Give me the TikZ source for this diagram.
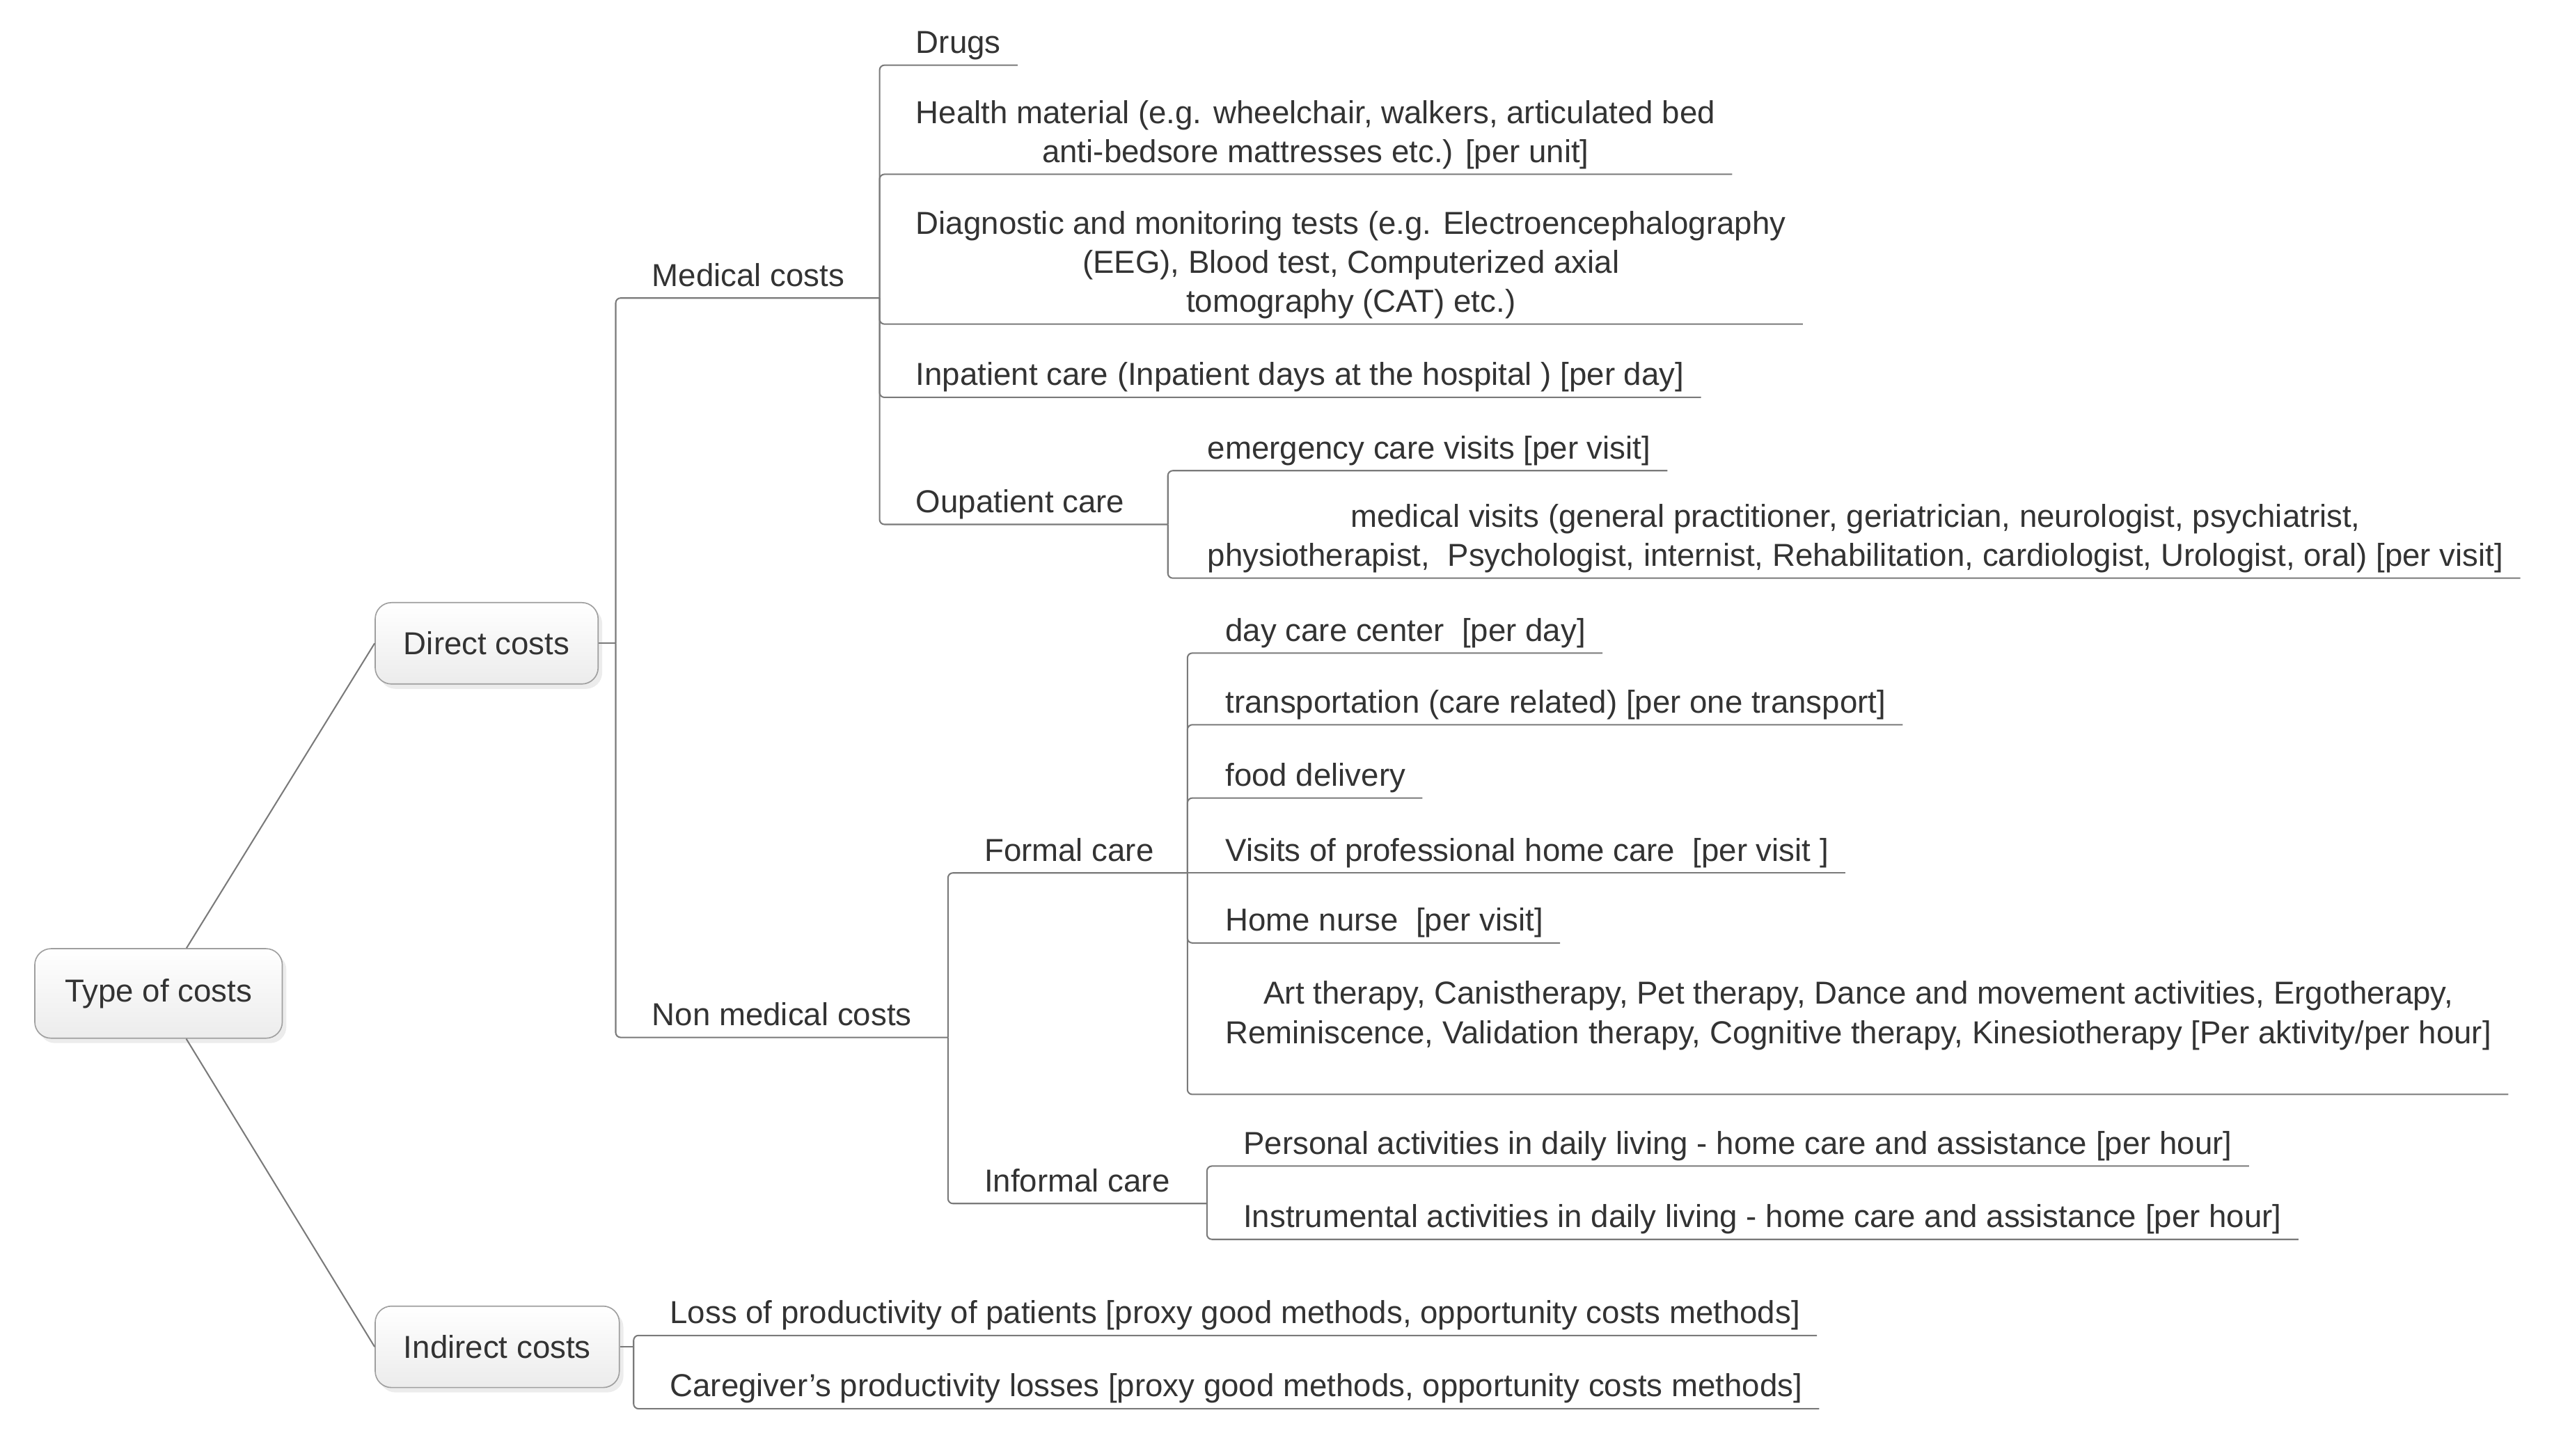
\documentclass[tikz,border=0pt]{standalone}
\usepackage{fontspec}
\setmainfont{Liberation Sans}
\usetikzlibrary{shadows}
\definecolor{txt}{HTML}{333333}
\definecolor{edge}{HTML}{7A7A7A}
\tikzset{
  box/.style={draw=gray!75, rounded corners=0.2cm, top color=white, bottom color=gray!15,
    drop shadow={opacity=0.15, shadow xshift=0.05cm, shadow yshift=-0.06cm},
    inner xsep=0.35cm, minimum height=1cm, text=txt},
  topic/.style={anchor=south west, inner xsep=0.2cm, inner ysep=0.07cm, text depth=0.07cm,
    align=center, text=txt},
  link/.style={draw=edge, line width=0.5pt, rounded corners=0.06cm},
}
\begin{document}
\begin{tikzpicture}[x=0.02cm, y=-0.02cm, font=\fontsize{11.1}{13.66}\selectfont]
    \useasboundingbox (0,0) rectangle (1568,894);

    \node[box, anchor=west, minimum height=1.1cm, minimum width=3.04cm] at (21,610) (root){Type of costs};
    \node[box, anchor=west] at (230,395) (direct){Direct costs};
    \node[box, anchor=west] at (230,827) (indirect){Indirect costs};

    \coordinate (dirj) at (378,395);
    \coordinate (medj) at (540,183);
    \coordinate (outj) at (717,322);
    \coordinate (nonj) at (582,637);
    \coordinate (formj) at (729,536);
    \coordinate (infj) at (741,739);
    \coordinate (indj) at (389,827);

    \node[topic] at (390,183) (med){Medical costs};
    \node[topic] at (552,40) (drugs){Drugs};
    \node[topic] at (552,107) (health){Health material (e.g. wheelchair, walkers, articulated bed\\anti-bedsore mattresses etc.) [per unit]};
    \node[topic] at (552,199) (diag){Diagnostic and monitoring tests (e.g. Electroencephalography\\(EEG), Blood test, Computerized axial\\tomography (CAT) etc.)};
    \node[topic] at (552,244) (inpat){Inpatient care (Inpatient days at the hospital ) [per day]};
    \node[topic] at (552,322) (outpat){Oupatient care};
    \node[topic] at (731,289) (emerg){emergency care visits [per visit]};
    \node[topic] at (731,355) (medvis){medical visits (general practitioner, geriatrician, neurologist, psychiatrist,\\physiotherapist,~ Psychologist, internist, Rehabilitation, cardiologist, Urologist, oral) [per visit]};

    \node[topic] at (390,637) (nonmed){Non medical costs};
    \node[topic] at (594,536) (formal){Formal care};
    \node[topic] at (594,739) (informal){Informal care};
    \node[topic] at (742,401) (daycare){day care center~ [per day]};
    \node[topic] at (742,445) (transp){transportation (care related) [per one transport]};
    \node[topic] at (742,490) (food){food delivery};
    \node[topic] at (742,536) (homecare){Visits of professional home care~ [per visit ]};
    \node[topic] at (742,579) (nurse){Home nurse~ [per visit]};
    \node[topic, text depth=0.55cm] at (742,672) (therapy){Art therapy, Canistherapy, Pet therapy, Dance and movement activities, Ergotherapy,\\Reminiscence, Validation therapy, Cognitive therapy, Kinesiotherapy [Per aktivity/per hour]};
    \node[topic] at (753,716) (personal){Personal activities in daily living - home care and assistance [per hour]};
    \node[topic] at (753,761) (instr){Instrumental activities in daily living - home care and assistance [per hour]};

    \node[topic] at (401,820) (lossprod){Loss of productivity of patients [proxy good methods, opportunity costs methods]};
    \node[topic] at (401,865) (caregiver){Caregiver's productivity losses [proxy good methods, opportunity costs methods]};

    \draw[link](root) -- (direct.west);
    \draw[link](root) -- (indirect.west);
    \draw[link](direct.east) -- (dirj);
    \draw[link](indirect.east) -- (indj);

    \draw[link](dirj) |- (med.south east) -- (medj);
    \draw[link](dirj) |- (nonmed.south east) -- (nonj);
    \foreach \n in {drugs,health,diag,inpat}
        \draw[link](medj) |- (\n.south east);
    \draw[link](medj) |- (outpat.south east) -- (outj);
    \foreach \n in {emerg,medvis}
        \draw[link](outj) |- (\n.south east);

    \draw[link](nonj) |- (formal.south east) -- (formj);
    \draw[link](nonj) |- (informal.south east) -- (infj);
    \foreach \n in {daycare,transp,food,nurse,therapy}
        \draw[link](formj) |- (\n.south east);
    \draw[link](formj) -- (homecare.south east);
    \foreach \n in {personal,instr}
        \draw[link](infj) |- (\n.south east);

    \foreach \n in {lossprod,caregiver}
        \draw[link](indj) |- (\n.south east);
\end{tikzpicture}
\end{document}
